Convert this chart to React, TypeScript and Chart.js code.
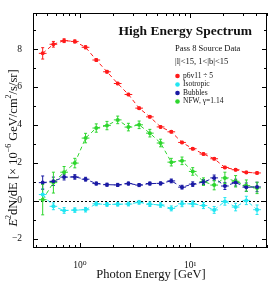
import React, { useEffect, useRef } from "react";
import { Chart, registerables } from "chart.js";

Chart.register(...registerables);

const energies = [0.458, 0.573, 0.717, 0.897, 1.123, 1.405, 1.758, 2.2, 2.753, 3.445, 4.311, 5.395, 6.751, 8.448, 10.57, 13.23, 16.56, 20.72, 25.93, 32.45, 40.6];

const p6v11 = [7.77, 8.25, 8.44, 8.4, 8.09, 7.42, 6.8, 6.18, 5.6, 4.88, 4.42, 3.89, 3.63, 3.07, 2.74, 2.46, 2.21, 1.75, 1.63, 1.49, 1.46];
const p6v11Err = [0.3, 0.15, 0.1, 0.08, 0.08, 0.07, 0.07, 0.06, 0.06, 0.06, 0.06, 0.06, 0.06, 0.06, 0.06, 0.06, 0.06, 0.06, 0.06, 0.06, 0.06];

const isotropic = [0.32, -0.3, -0.52, -0.5, -0.48, -0.17, -0.2, -0.19, -0.18, -0.09, -0.19, -0.23, -0.41, -0.17, -0.17, -0.26, -0.49, -0.04, -0.34, 0.01, -0.48];
const isotropicErr = [0.3, 0.18, 0.15, 0.12, 0.12, 0.1, 0.1, 0.1, 0.1, 0.1, 0.12, 0.12, 0.13, 0.15, 0.15, 0.16, 0.18, 0.2, 0.2, 0.22, 0.25];

const bubbles = [0.95, 1.02, 1.24, 1.25, 1.13, 0.9, 0.84, 0.83, 0.9, 0.82, 0.9, 0.91, 1.04, 0.71, 0.87, 0.98, 1.2, 0.77, 0.95, 0.71, 0.72];
const bubblesErr = [0.35, 0.22, 0.15, 0.12, 0.1, 0.08, 0.08, 0.08, 0.08, 0.08, 0.08, 0.08, 0.1, 0.1, 0.12, 0.13, 0.15, 0.18, 0.18, 0.22, 0.25];

const nfw = [0.05, 0.95, 1.5, 1.98, 3.3, 3.83, 3.96, 4.26, 3.88, 4.0, 3.56, 3.04, 2.03, 2.1, 1.54, 1.0, 0.82, 1.2, 1.02, 0.79, 0.67];
const nfwErr = [0.8, 0.55, 0.3, 0.25, 0.25, 0.22, 0.22, 0.2, 0.2, 0.2, 0.2, 0.2, 0.2, 0.2, 0.2, 0.2, 0.25, 0.3, 0.3, 0.3, 0.3];

const seriesNames = ["p6v11 \u00f7 5", "Isotropic", "Bubbles", "NFW, \u03b3=1.14"];
const seriesColors = ["#ff1a1a", "#22e6f2", "#1a1aa4", "#2ed62e"];
const seriesValues = [p6v11, isotropic, bubbles, nfw];
const seriesErrors = [p6v11Err, isotropicErr, bubblesErr, nfwErr];

const yMajorTicks = [-2, 0, 2, 4, 6, 8];
const yMinorTicks = [-1, 1, 3, 5, 7, 9];
const xMajorTicks = [1, 10];
const xTickLabels = ["10\u2070", "10\u00b9"];
const xMinorTicks = [0.4, 0.5, 0.6, 0.7, 0.8, 0.9, 2, 3, 4, 5, 6, 7, 8, 9, 20, 30, 40, 50];

const SERIF = "'Liberation Serif', 'DejaVu Serif', serif";

const decorPlugin = {
  id: "decor",
  beforeDatasetsDraw(chart: any) {
    const { ctx, chartArea: a, scales } = chart;
    const xs = scales.x;
    const ys = scales.y;
    ctx.save();
    ctx.strokeStyle = "#000";
    ctx.lineWidth = 1;
    ctx.setLineDash([2, 2]);
    const y0 = Math.round(ys.getPixelForValue(0)) + 0.5;
    ctx.beginPath();
    ctx.moveTo(a.left, y0);
    ctx.lineTo(a.right, y0);
    ctx.stroke();
    ctx.setLineDash([]);
    chart.data.datasets.forEach((ds: any, di: number) => {
      const errs = seriesErrors[di];
      ctx.strokeStyle = ds.borderColor;
      ctx.lineWidth = 1;
      ds.data.forEach((p: any, i: number) => {
        const px = xs.getPixelForValue(p.x);
        const pl = xs.getPixelForValue(p.x / Math.pow(10, 0.035));
        const pr = xs.getPixelForValue(p.x * Math.pow(10, 0.035));
        const pt = ys.getPixelForValue(p.y + errs[i]);
        const pb = ys.getPixelForValue(p.y - errs[i]);
        const py = ys.getPixelForValue(p.y);
        ctx.beginPath();
        ctx.moveTo(px, pt);
        ctx.lineTo(px, pb);
        ctx.moveTo(px - 1.5, pt);
        ctx.lineTo(px + 1.5, pt);
        ctx.moveTo(px - 1.5, pb);
        ctx.lineTo(px + 1.5, pb);
        ctx.moveTo(pl, py);
        ctx.lineTo(pr, py);
        ctx.stroke();
      });
    });
    ctx.restore();
  },
  afterDraw(chart: any) {
    const { ctx, chartArea: a, scales } = chart;
    const xs = scales.x;
    const ys = scales.y;
    ctx.save();
    ctx.strokeStyle = "#000";
    ctx.lineWidth = 1;
    ctx.strokeRect(Math.round(a.left) + 0.5, Math.round(a.top) + 0.5, Math.round(a.right - a.left) - 1, Math.round(a.bottom - a.top) - 1);
    ctx.beginPath();
    const tickX = (v: number, len: number) => {
      const x = Math.round(xs.getPixelForValue(v)) + 0.5;
      ctx.moveTo(x, a.bottom);
      ctx.lineTo(x, a.bottom - len);
      ctx.moveTo(x, a.top);
      ctx.lineTo(x, a.top + len);
    };
    const tickY = (v: number, len: number) => {
      const y = Math.round(ys.getPixelForValue(v)) + 0.5;
      ctx.moveTo(a.left, y);
      ctx.lineTo(a.left + len, y);
      ctx.moveTo(a.right, y);
      ctx.lineTo(a.right - len, y);
    };
    xMajorTicks.forEach((v) => tickX(v, 5));
    xMinorTicks.forEach((v) => tickX(v, 3));
    yMajorTicks.forEach((v) => tickY(v, 5));
    yMinorTicks.forEach((v) => tickY(v, 3));
    ctx.stroke();

    ctx.fillStyle = "#111";
    ctx.textAlign = "right";
    ctx.textBaseline = "alphabetic";
    ctx.font = `bold 13.5px ${SERIF}`;
    ctx.fillText("High Energy Spectrum", 252, 35);
    ctx.textAlign = "left";
    ctx.textBaseline = "middle";
    ctx.font = `8.5px ${SERIF}`;
    ctx.fillText("Pass 8 Source Data", 175, 49);
    ctx.fillText("|l|<15, 1<|b|<15", 175, 62);
    ctx.font = `7.5px ${SERIF}`;
    const rows = [76, 84.5, 93, 101.5];
    seriesNames.forEach((n, i) => {
      ctx.fillStyle = seriesColors[i];
      ctx.beginPath();
      ctx.arc(177.5, rows[i], 2.3, 0, Math.PI * 2);
      ctx.fill();
      ctx.fillStyle = "#111";
      ctx.fillText(n, 183, rows[i]);
    });

    ctx.textAlign = "center";
    ctx.font = `12.5px ${SERIF}`;
    ctx.fillText("Photon Energy [GeV]", 151, 275);

    ctx.translate(13, 148);
    ctx.rotate(-Math.PI / 2);
    const parts: [string, string, number][] = [
      ["E", `italic 12.5px ${SERIF}`, 0],
      ["2", `8px ${SERIF}`, -5],
      ["dN/dE [\u00d7 10", `12.5px ${SERIF}`, 0],
      ["\u22126", `8px ${SERIF}`, -5],
      [" GeV/cm", `12.5px ${SERIF}`, 0],
      ["2", `8px ${SERIF}`, -5],
      ["/s/sr]", `12.5px ${SERIF}`, 0],
    ];
    let total = 0;
    parts.forEach(([t, f]) => {
      ctx.font = f;
      total += ctx.measureText(t).width;
    });
    let cx = -total / 2;
    ctx.textAlign = "left";
    ctx.textBaseline = "middle";
    parts.forEach(([t, f, dy]) => {
      ctx.font = f;
      ctx.fillText(t, cx, dy + 1);
      cx += ctx.measureText(t).width;
    });
    ctx.restore();
  },
};

export default function App() {
  const ref = useRef<HTMLCanvasElement | null>(null);
  useEffect(() => {
    if (!ref.current) return;
    const chart = new Chart(ref.current, {
      type: "scatter",
      data: {
        datasets: seriesValues.map((vals, di) => ({
          label: seriesNames[di],
          data: energies.map((e, i) => ({ x: e, y: vals[i] })),
          showLine: true,
          borderColor: seriesColors[di],
          backgroundColor: seriesColors[di],
          borderWidth: 1,
          borderDash: [4, 3],
          pointRadius: 2,
          pointBorderWidth: 0,
          pointHoverRadius: 2,
        })),
      },
      options: {
        animation: false,
        responsive: false,
        maintainAspectRatio: false,
        events: [],
        layout: { padding: { top: 13, right: 7, left: 0, bottom: 0 } },
        plugins: { legend: { display: false }, tooltip: { enabled: false }, title: { display: false } },
        scales: {
          x: {
            type: "logarithmic",
            min: 0.374,
            max: 50,
            grid: { display: false },
            border: { display: false },
            afterBuildTicks: (s: any) => {
              s.ticks = xMajorTicks.map((v) => ({ value: v }));
            },
            afterFit: (s: any) => {
              s.height = 35;
            },
            ticks: {
              autoSkip: false,
              maxRotation: 0,
              padding: 4,
              color: "#111",
              font: { family: SERIF, size: 9.5 },
              callback: (v: any) => {
                const idx = xMajorTicks.indexOf(Number(v));
                return idx >= 0 ? xTickLabels[idx] : "";
              },
            },
          },
          y: {
            type: "linear",
            min: -2.5,
            max: 9.9,
            grid: { display: false },
            border: { display: false },
            afterBuildTicks: (s: any) => {
              s.ticks = yMajorTicks.map((v) => ({ value: v }));
            },
            afterFit: (s: any) => {
              s.width = 33;
            },
            ticks: {
              autoSkip: false,
              padding: 3,
              color: "#111",
              font: { family: SERIF, size: 9.5 },
              callback: (v: any) => (Number(v) < 0 ? "\u2212" + Math.abs(Number(v)) : String(v)),
            },
          },
        },
      },
      plugins: [decorPlugin],
    });
    return () => chart.destroy();
  }, []);
  return (
    <div style={{ position: "fixed", left: 0, top: 0, width: 274, height: 283, background: "#fff" }}>
      <canvas ref={ref} width={274} height={283} style={{ width: 274, height: 283, display: "block" }} />
    </div>
  );
}
